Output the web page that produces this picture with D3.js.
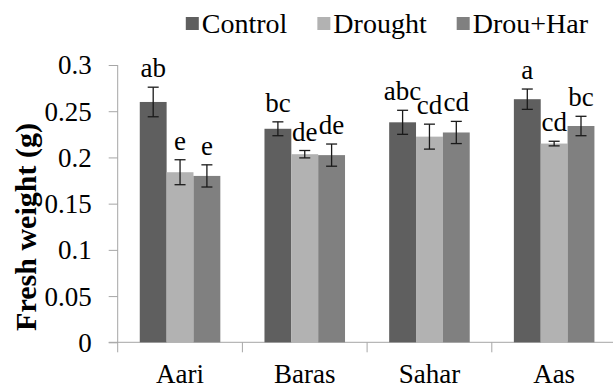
<!DOCTYPE html>
<html>
<head>
<meta charset="utf-8">
<script src="https://cdn.jsdelivr.net/npm/d3@7/dist/d3.min.js"></script>
<style>
  body { margin: 0; background: #fff; }
</style>
</head>
<body>
<svg id="chart" width="613" height="388"></svg>
<script>
// data
const cultivars = ['Aari', 'Baras', 'Sahar', 'Aas'];
const treatments = ['Control', 'Drought', 'Drou+Har'];
const controlMean = [0.260, 0.231, 0.238, 0.263];
const droughtMean = [0.184, 0.2035, 0.2225, 0.215];
const drouHarMean = [0.180, 0.2025, 0.227, 0.234];
const controlErr = [0.016, 0.0075, 0.013, 0.011];
const droughtErr = [0.0135, 0.004, 0.0135, 0.0025];
const drouHarErr = [0.012, 0.012, 0.012, 0.0105];
const controlLetters = ['ab', 'bc', 'abc', 'a'];
const droughtLetters = ['e', 'de', 'cd', 'cd'];
const drouHarLetters = ['e', 'de', 'cd', 'bc'];
const yTicks = [0, 0.05, 0.1, 0.15, 0.2, 0.25, 0.3];

const serif = "'Liberation Serif', 'Times New Roman', 'DejaVu Serif', serif";
const colors = ['#5f5f5f', '#b2b2b2', '#808080'];
const means = [controlMean, droughtMean, drouHarMean];
const errs = [controlErr, droughtErr, drouHarErr];
const letters = [controlLetters, droughtLetters, drouHarLetters];

const rows = [];
cultivars.forEach((c, i) => {
    treatments.forEach((t, j) => {
        rows.push({ cultivar: c, treatment: t, j: j, mean: means[j][i], err: errs[j][i], letter: letters[j][i] });
    });
});

const svg = d3.select('#chart');
const x0 = 117.7, xEnd = 616.5, yBottom = 342.3, yTop = 65;

const x = d3.scaleBand().domain(cultivars).range([x0, xEnd])
    .paddingInner(0.354).paddingOuter(0.177);
const xs = d3.scaleBand().domain(treatments).range([0, x.bandwidth()]);
const y = d3.scaleLinear().domain([0, 0.3]).range([yBottom, yTop]);

// y axis
const yAxis = svg.append('g')
    .attr('transform', `translate(${x0},0)`)
    .call(d3.axisLeft(y).tickValues(yTicks).tickSize(9).tickPadding(17)
        .tickFormat(d => d === 0 ? '0' : String(+d.toFixed(2))));
yAxis.select('.domain').attr('stroke', '#a6a6a6').attr('d', `M0,${yTop}V${yBottom}`);
yAxis.selectAll('.tick line').attr('stroke', '#a6a6a6');
yAxis.selectAll('.tick text').style('font-size', '27px').attr('dy', '0.33em');

// x axis
const xAxisG = svg.append('g').attr('transform', `translate(0,${yBottom})`);
xAxisG.append('line').attr('x1', x0 - 9).attr('x2', 613).attr('y1', 0).attr('y2', 0)
    .attr('stroke', '#a6a6a6');
xAxisG.selectAll('.xt').data(cultivars).join('line')
    .attr('x1', d => x(d) - x.step() * 0.177).attr('x2', d => x(d) - x.step() * 0.177)
    .attr('y1', 0).attr('y2', 10).attr('stroke', '#a6a6a6');
xAxisG.selectAll('.xl').data(cultivars).join('text')
    .attr('x', d => x(d) + x.bandwidth() / 2).attr('y', 41)
    .attr('text-anchor', 'middle').style('font-size', '27px').text(d => d);

// bars
svg.append('g').selectAll('rect').data(rows).join('rect')
    .attr('x', d => x(d.cultivar) + xs(d.treatment))
    .attr('y', d => y(d.mean))
    .attr('width', xs.bandwidth())
    .attr('height', d => y(0) - y(d.mean))
    .attr('fill', d => colors[d.j]);

// error bars
const eb = svg.append('g').attr('stroke', '#1a1a1a').attr('stroke-width', 1.3);
rows.forEach(d => {
    const cx = x(d.cultivar) + xs(d.treatment) + xs.bandwidth() / 2;
    const t = y(d.mean + d.err), b = y(d.mean - d.err);
    eb.append('line').attr('x1', cx).attr('x2', cx).attr('y1', t).attr('y2', b);
    eb.append('line').attr('x1', cx - 5.5).attr('x2', cx + 5.5).attr('y1', t).attr('y2', t);
    eb.append('line').attr('x1', cx - 5.5).attr('x2', cx + 5.5).attr('y1', b).attr('y2', b);
});

// significance letters
svg.append('g').selectAll('text').data(rows).join('text')
    .attr('x', d => x(d.cultivar) + xs(d.treatment) + xs.bandwidth() / 2)
    .attr('y', d => y(d.mean + d.err) - 10)
    .attr('text-anchor', 'middle').style('font-size', '27px')
    .text(d => d.letter);

// y title
svg.append('text')
    .attr('transform', 'translate(36,227) rotate(-90)')
    .attr('text-anchor', 'middle')
    .style('font-size', '30px').style('font-weight', 'bold')
    .text('Fresh weight (g)');

// legend, right edge near x = 588
const legend = svg.append('g').attr('transform', 'translate(0,33)');
const items = treatments.map((t, j) => {
    const g = legend.append('g');
    g.append('rect').attr('y', -16).attr('width', 13).attr('height', 13).attr('fill', colors[j]);
    const txt = g.append('text').attr('x', 16).attr('y', 0)
        .style('font-size', '28px').style('font-family', serif).text(t);
    return { g: g, w: 16 + txt.node().getComputedTextLength() };
});
const gap = 30;
let lx = 588 - d3.sum(items, d => d.w) - gap * (items.length - 1);
items.forEach(it => {
    it.g.attr('transform', `translate(${lx},0)`);
    lx += it.w + gap;
});

// serif everywhere, set inline so the axis default does not win
svg.selectAll('text').style('font-family', serif).style('fill', '#000');
</script>
</body>
</html>
